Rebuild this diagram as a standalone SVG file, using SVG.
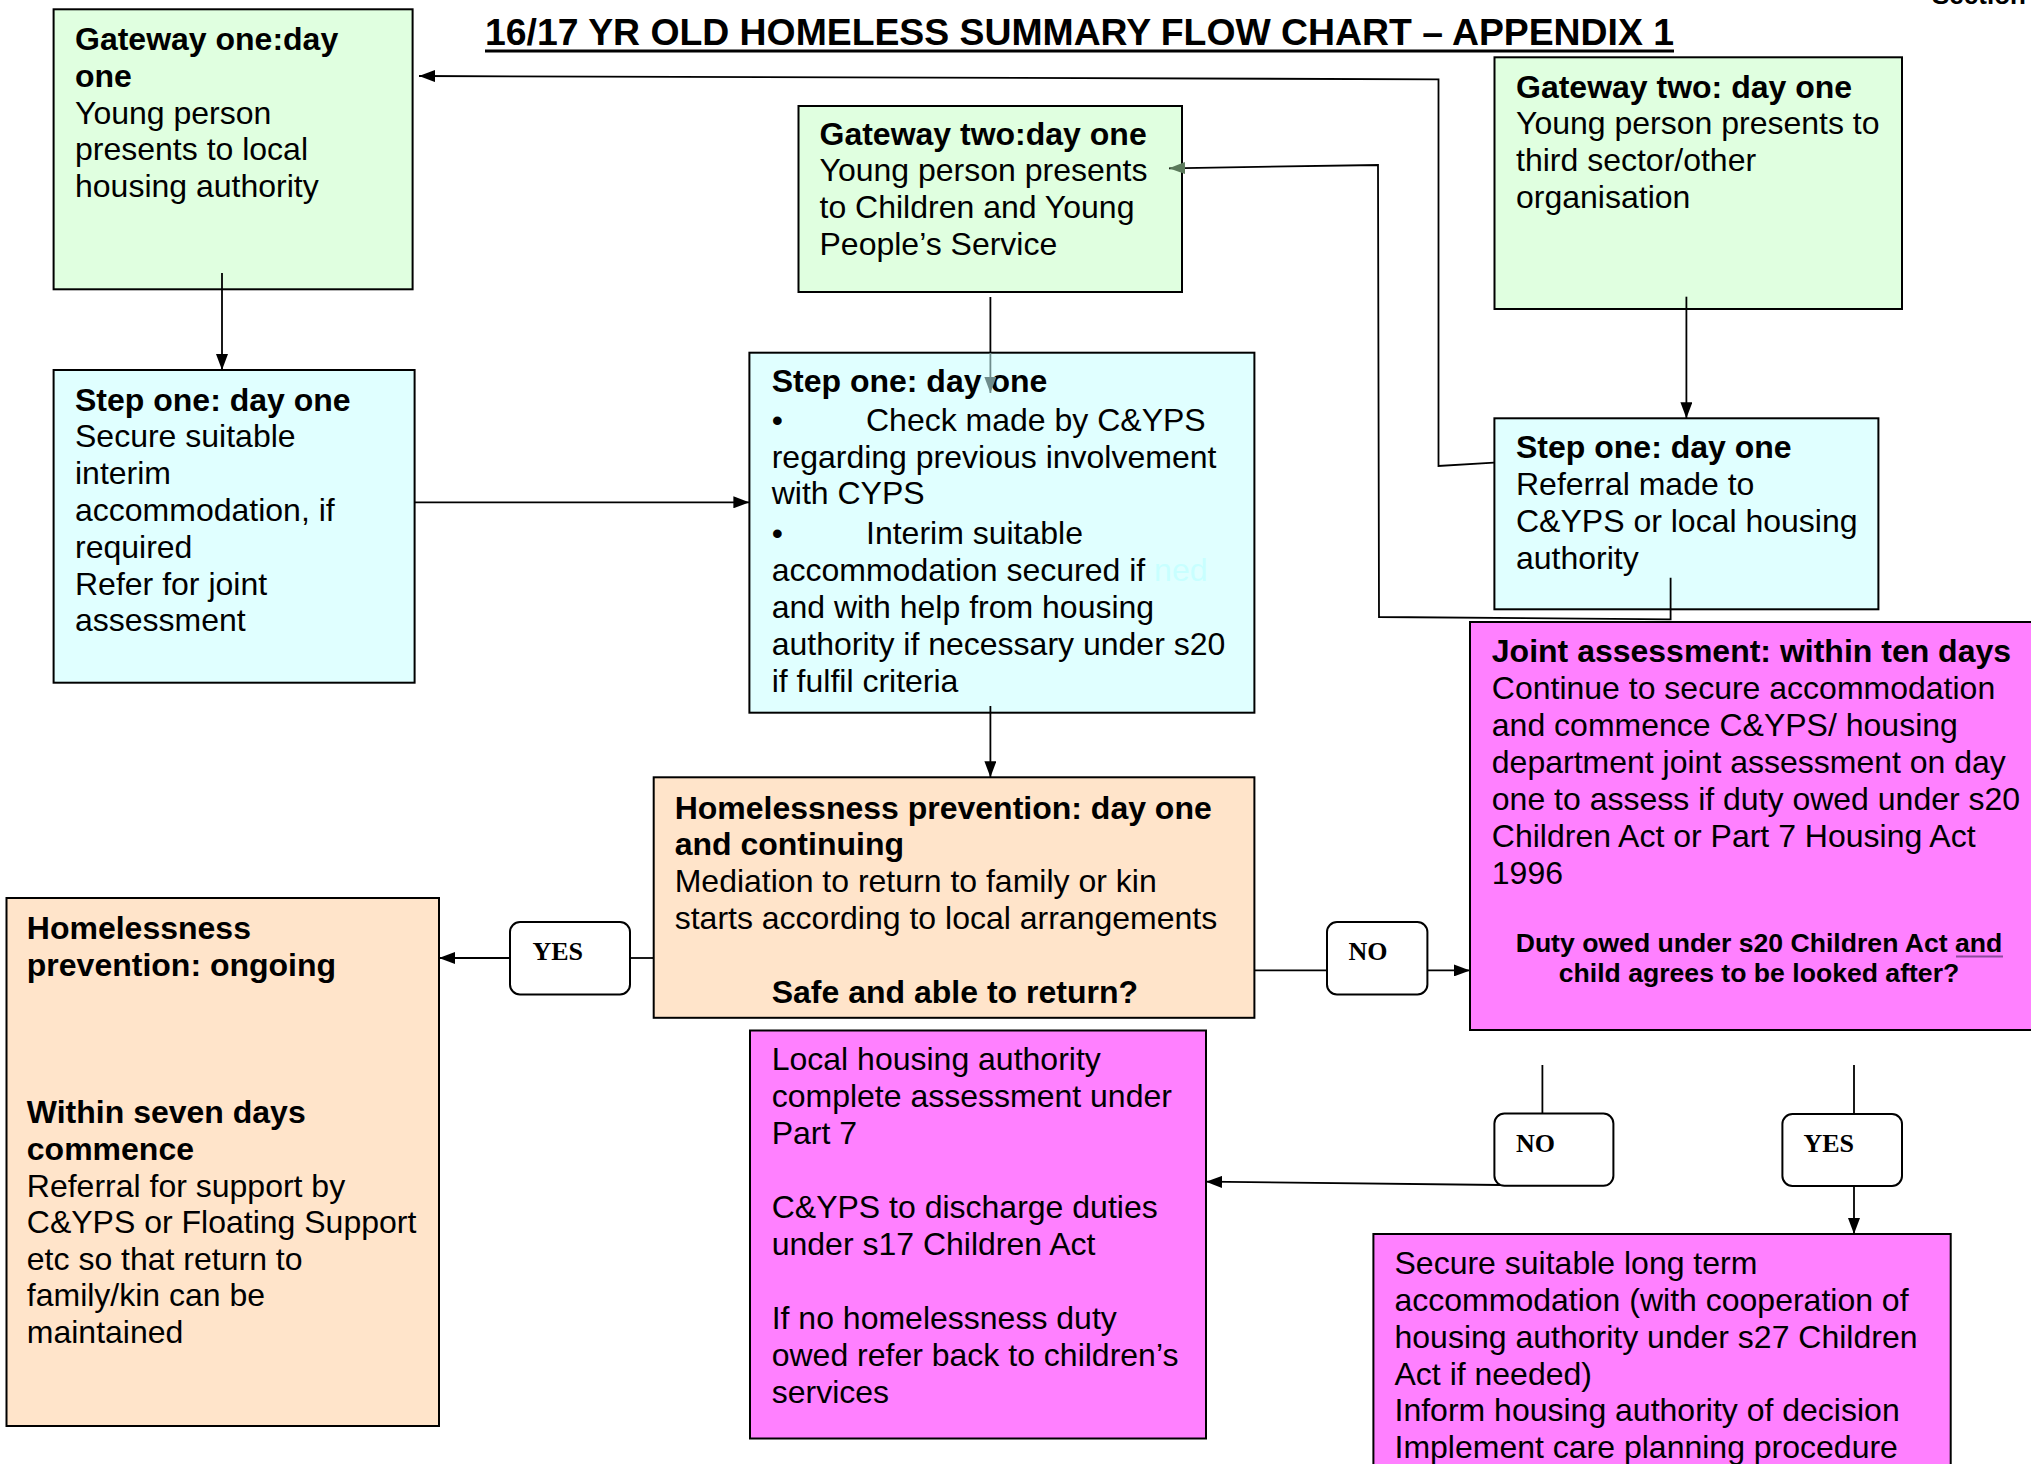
<svg xmlns="http://www.w3.org/2000/svg" width="2031" height="1464" viewBox="0 0 2031 1464">
<style>
.box{stroke:#000;stroke-width:2}
.g{fill:#E0FFE0}.c{fill:#E0FFFF}.p{fill:#FFE4CA}.m{fill:#FF80FF}
.yn-box{fill:#fff;stroke:#000;stroke-width:2}
.t{font-family:"Liberation Sans",Arial,sans-serif;font-size:32px;fill:#000}
.b{font-weight:bold}
.yn{font-family:"Liberation Serif","Times New Roman",serif;font-size:26px;font-weight:bold;fill:#000}
.conn{fill:none;stroke:#000;stroke-width:1.8}
</style>
<defs>
<marker id="ah" markerUnits="userSpaceOnUse" markerWidth="16" markerHeight="12" refX="16" refY="6" orient="auto"><path d="M0,0 L16,6 L0,12 z" fill="#000"/></marker>
<marker id="ahg" markerUnits="userSpaceOnUse" markerWidth="16" markerHeight="12" refX="16" refY="6" orient="auto"><path d="M0,0 L16,6 L0,12 z" fill="#5B7A5B"/></marker>
<marker id="aht" markerUnits="userSpaceOnUse" markerWidth="16" markerHeight="12" refX="16" refY="6" orient="auto"><path d="M0,0 L16,6 L0,12 z" fill="#6E8C8C"/></marker>
</defs>
<rect width="2031" height="1464" fill="#fff"/>

<g id="title">
<text class="t b" x="485" y="45" style="font-size:37px" textLength="1189" lengthAdjust="spacingAndGlyphs">16/17 YR OLD HOMELESS SUMMARY FLOW CHART – APPENDIX 1</text>
<rect x="485" y="49.5" width="1189" height="3" fill="#000"/>
<text class="t b" x="1932" y="4" style="font-size:26px">Section</text>
</g>

<g id="gateway-one">
<rect class="box g" x="53.6" y="9.3" width="359" height="280"/>
<text class="t" x="75"><tspan class="b" x="75" y="50">Gateway one:day</tspan><tspan class="b" x="75" y="86.8">one</tspan><tspan x="75" y="123.6">Young person</tspan><tspan x="75" y="160.4">presents to local</tspan><tspan x="75" y="197.2">housing authority</tspan></text>
</g>

<g id="gateway-two-cyps">
<rect class="box g" x="798.5" y="106" width="383.5" height="186"/>
<text class="t"><tspan class="b" x="819.5" y="144.5">Gateway two:day one</tspan><tspan x="819.5" y="181.3">Young person presents</tspan><tspan x="819.5" y="218.1">to Children and Young</tspan><tspan x="819.5" y="254.9">People’s Service</tspan></text>
</g>

<g id="gateway-two-third">
<rect class="box g" x="1494.5" y="57.3" width="407.5" height="251.7"/>
<text class="t"><tspan class="b" x="1516" y="97.5">Gateway two: day one</tspan><tspan x="1516" y="134.3">Young person presents to</tspan><tspan x="1516" y="171.1">third sector/other</tspan><tspan x="1516" y="207.9">organisation</tspan></text>
</g>

<g id="step-one-left">
<rect class="box c" x="53.6" y="370" width="361" height="312.7"/>
<text class="t"><tspan class="b" x="75" y="410.5">Step one: day one</tspan><tspan x="75" y="447.3">Secure suitable</tspan><tspan x="75" y="484.1">interim</tspan><tspan x="75" y="520.9">accommodation, if</tspan><tspan x="75" y="557.7">required</tspan><tspan x="75" y="594.5">Refer for joint</tspan><tspan x="75" y="631.3">assessment</tspan></text>
</g>

<g id="step-one-middle">
<rect class="box c" x="749.4" y="352.7" width="505" height="360"/>
<text class="t"><tspan class="b" x="771.7" y="392">Step one: day one</tspan><tspan x="771.7" y="431">•</tspan><tspan x="866" y="431">Check made by C&amp;YPS</tspan><tspan x="771.7" y="468">regarding previous involvement</tspan><tspan x="771.7" y="504">with CYPS</tspan><tspan x="771.7" y="544">•</tspan><tspan x="866" y="544">Interim suitable</tspan><tspan x="771.7" y="581">accommodation secured if <tspan fill="#C8FFFF">ned</tspan></tspan><tspan x="771.7" y="618">and with help from housing</tspan><tspan x="771.7" y="655">authority if necessary under s20</tspan><tspan x="771.7" y="692">if fulfil criteria</tspan></text>
</g>

<g id="step-one-right">
<rect class="box c" x="1494.4" y="418.3" width="384" height="191"/>
<text class="t"><tspan class="b" x="1516" y="458">Step one: day one</tspan><tspan x="1516" y="495">Referral made to</tspan><tspan x="1516" y="532">C&amp;YPS or local housing</tspan><tspan x="1516" y="569">authority</tspan></text>
</g>

<g id="joint-assessment">
<rect class="box m" x="1470" y="622" width="580" height="408"/>
<text class="t"><tspan class="b" x="1491.8" y="662">Joint assessment: within ten days</tspan><tspan x="1491.8" y="699">Continue to secure accommodation</tspan><tspan x="1491.8" y="736">and commence C&amp;YPS/ housing</tspan><tspan x="1491.8" y="773">department joint assessment on day</tspan><tspan x="1491.8" y="810">one to assess if duty owed under s20</tspan><tspan x="1491.8" y="847">Children Act or Part 7 Housing Act</tspan><tspan x="1491.8" y="884">1996</tspan></text>
<text class="t b" style="font-size:26.6px" text-anchor="middle"><tspan x="1759" y="952">Duty owed under s20 Children Act and</tspan><tspan x="1759" y="982">child agrees to be looked after?</tspan></text>
<line x1="1956" y1="956.5" x2="2003" y2="956.5" stroke="#8B4A9C" stroke-width="2"/>
</g>

<g id="prevention-day-one">
<rect class="box p" x="653.7" y="777.3" width="600.7" height="240.5"/>
<text class="t"><tspan class="b" x="674.7" y="818.5">Homelessness prevention: day one</tspan><tspan class="b" x="674.7" y="855">and continuing</tspan><tspan x="674.7" y="892">Mediation to return to family or kin</tspan><tspan x="674.7" y="929">starts according to local arrangements</tspan><tspan class="b" x="771.7" y="1003">Safe and able to return?</tspan></text>
</g>

<g id="prevention-ongoing">
<rect class="box p" x="6.5" y="898" width="432.5" height="528"/>
<text class="t"><tspan class="b" x="26.8" y="939">Homelessness</tspan><tspan class="b" x="26.8" y="975.5">prevention: ongoing</tspan><tspan class="b" x="26.8" y="1123">Within seven days</tspan><tspan class="b" x="26.8" y="1159.5">commence</tspan><tspan x="26.8" y="1196.5">Referral for support by</tspan><tspan x="26.8" y="1233">C&amp;YPS or Floating Support</tspan><tspan x="26.8" y="1269.5">etc so that return to</tspan><tspan x="26.8" y="1306">family/kin can be</tspan><tspan x="26.8" y="1343">maintained</tspan></text>
</g>

<g id="local-housing">
<rect class="box m" x="750" y="1030.5" width="456" height="408"/>
<text class="t"><tspan x="771.7" y="1070">Local housing authority</tspan><tspan x="771.7" y="1107">complete assessment under</tspan><tspan x="771.7" y="1144">Part 7</tspan><tspan x="771.7" y="1218">C&amp;YPS to discharge duties</tspan><tspan x="771.7" y="1255">under s17 Children Act</tspan><tspan x="771.7" y="1329">If no homelessness duty</tspan><tspan x="771.7" y="1366">owed refer back to children’s</tspan><tspan x="771.7" y="1403">services</tspan></text>
</g>

<g id="secure-long-term">
<rect class="box m" x="1373.4" y="1234" width="577.3" height="250"/>
<text class="t"><tspan x="1394.5" y="1274">Secure suitable long term</tspan><tspan x="1394.5" y="1311">accommodation (with cooperation of</tspan><tspan x="1394.5" y="1347.5">housing authority under s27 Children</tspan><tspan x="1394.5" y="1384.5">Act if needed)</tspan><tspan x="1394.5" y="1421">Inform housing authority of decision</tspan><tspan x="1394.5" y="1458">Implement care planning procedure</tspan></text>
</g>

<g id="connectors">
<line class="conn" x1="222" y1="273" x2="222" y2="370" marker-end="url(#ah)"/>
<line class="conn" x1="414.5" y1="502.3" x2="749.4" y2="502.3" marker-end="url(#ah)"/>
<line class="conn" x1="990.4" y1="297" x2="990.4" y2="353"/>
<line x1="990.4" y1="353" x2="990.4" y2="393" stroke="#6E8C8C" stroke-width="1.8" marker-end="url(#aht)"/>
<polyline class="conn" points="1494,462.7 1438.5,466 1438.5,79.3 419,76" marker-end="url(#ah)"/>
<polyline class="conn" points="1670.6,577.7 1670.6,619.3 1379,617 1378,165 1169,168.3" marker-end="url(#ahg)"/>
<line class="conn" x1="1686.4" y1="296.7" x2="1686.4" y2="418.3" marker-end="url(#ah)"/>
<line class="conn" x1="990.4" y1="706" x2="990.4" y2="777.3" marker-end="url(#ah)"/>
<line class="conn" x1="653.7" y1="958" x2="630" y2="958"/>
<line class="conn" x1="510" y1="958" x2="439" y2="958" marker-end="url(#ah)"/>
<line class="conn" x1="1254.4" y1="970.4" x2="1327" y2="970.4"/>
<line class="conn" x1="1427.4" y1="970.4" x2="1470" y2="970.4" marker-end="url(#ah)"/>
<line class="conn" x1="1542.4" y1="1065" x2="1542.4" y2="1114"/>
<line class="conn" x1="1500" y1="1185" x2="1206" y2="1181.7" marker-end="url(#ah)"/>
<line class="conn" x1="1854" y1="1065" x2="1854" y2="1114"/>
<line class="conn" x1="1854" y1="1186" x2="1854" y2="1234" marker-end="url(#ah)"/>
</g>

<g id="label-yes-left">
<rect class="yn-box" x="510" y="922" width="120" height="72.5" rx="10"/>
<text class="yn" x="532.5" y="960.4">YES</text>
</g>
<g id="label-no-right">
<rect class="yn-box" x="1327" y="922" width="100.4" height="72.5" rx="10"/>
<text class="yn" x="1348.5" y="960.4">NO</text>
</g>
<g id="label-no-bottom">
<rect class="yn-box" x="1494.4" y="1113.5" width="119" height="72.3" rx="10"/>
<text class="yn" x="1516" y="1151.6">NO</text>
</g>
<g id="label-yes-bottom">
<rect class="yn-box" x="1782.4" y="1114" width="119.6" height="72" rx="10"/>
<text class="yn" x="1803.5" y="1151.6">YES</text>
</g>
</svg>
